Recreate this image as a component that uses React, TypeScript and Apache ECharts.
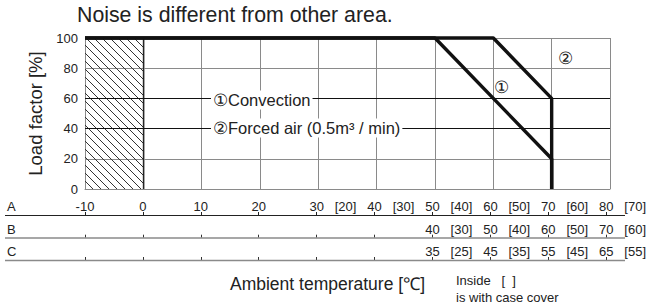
import React, { useEffect, useRef } from "react";
import * as echarts from "echarts";

const FONT = '"Liberation Sans", Arial, Helvetica, sans-serif';

// Derating curves: [ambient temperature (row A), load factor %]
const convectionCurve: [number, number][] = [[-10, 100], [50, 100], [70, 20], [70, 0]];
const forcedAirCurve: [number, number][] = [[-10, 100], [60, 100], [70, 60], [70, 0]];
// Hatched (different noise) region: [xFrom, xTo, yFrom, yTo]
const hatchBand: number[][] = [[-10, 0, 0, 100]];
// Leader line levels for the labels
const leaderLevels = [60, 40];

// Axis ticks
const yMin = 0, yMax = 100, yStep = 20;
const xMin = -10, xMax = 80, xStep = 10;
const majorTicks = [-10, 0, 10, 20, 30, 40, 50, 60, 70, 80];

// Temperature label rows
const rowAPositions = [-10, 0, 10, 20, 30, 35, 40, 45, 50, 55, 60, 65, 70, 75, 80, 85];
const rowALabels = ["-10", "0", "10", "20", "30", "[20]", "40", "[30]", "50", "[40]", "60", "[50]", "70", "[60]", "80", "[70]"];
const rowBPositions = [50, 55, 60, 65, 70, 75, 80, 85];
const rowBLabels = ["40", "[30]", "50", "[40]", "60", "[50]", "70", "[60]"];
const rowCPositions = [50, 55, 60, 65, 70, 75, 80, 85];
const rowCLabels = ["35", "[25]", "45", "[35]", "55", "[45]", "65", "[55]"];

const rowAxis = (offset: number, positions: number[], labels: string[], tickColor: string) => ({
  gridIndex: 1,
  type: "value",
  min: -10,
  max: 85,
  position: "bottom",
  offset,
  axisLine: { show: false },
  splitLine: { show: false },
  axisTick: {
    show: true,
    inside: true,
    length: 3,
    customValues: majorTicks,
    lineStyle: { color: tickColor, width: 1 },
  },
  axisLabel: {
    show: true,
    inside: true,
    margin: 2,
    customValues: positions,
    formatter: (v: number) => {
      const i = positions.indexOf(v);
      return i >= 0 ? labels[i] : "";
    },
    fontSize: 13,
    color: "#222",
    fontFamily: FONT,
  },
});

export default function App() {
  const ref = useRef<HTMLDivElement>(null);
  useEffect(() => {
    if (!ref.current) return;
    const chart = echarts.init(ref.current, null, { renderer: "svg" });
    const gray = "#8a8a8a";
    const option: any = {
      animation: false,
      backgroundColor: "#fff",
      grid: [
        { left: 85, top: 38, width: 525, height: 151 },
        { left: 85, top: 195, width: (525 * 95) / 90, height: 20 },
      ],
      xAxis: [
        {
          gridIndex: 0,
          type: "value",
          min: xMin,
          max: xMax,
          interval: xStep,
          axisLine: { show: true, lineStyle: { color: gray, width: 1 } },
          axisTick: { show: false },
          axisLabel: { show: false },
          splitLine: { show: true, lineStyle: { color: gray, width: 1 } },
        },
        rowAxis(0, rowAPositions, rowALabels, "#222"),
        rowAxis(22.7, rowBPositions, rowBLabels, "#333"),
        rowAxis(45, rowCPositions, rowCLabels, "#333"),
      ],
      yAxis: [
        {
          gridIndex: 0,
          type: "value",
          min: yMin,
          max: yMax,
          interval: yStep,
          axisLine: { show: true, lineStyle: { color: gray, width: 1.5 } },
          axisTick: { show: false },
          axisLabel: { fontSize: 13, color: "#222", margin: 7, fontFamily: FONT },
          splitLine: { show: true, lineStyle: { color: gray, width: 1 } },
          name: "Load factor [%]",
          nameLocation: "middle",
          nameRotate: 90,
          nameGap: 31,
          nameTextStyle: { fontSize: 18.5, color: "#222", fontFamily: FONT },
        },
        { gridIndex: 1, type: "value", show: false },
      ],
      series: [
        {
          type: "custom",
          xAxisIndex: 0,
          yAxisIndex: 0,
          data: hatchBand,
          silent: true,
          z: 1,
          renderItem: (params: any, api: any) => {
            const tl = api.coord([api.value(0), api.value(3)]);
            const br = api.coord([api.value(1), api.value(2)]);
            const x0 = tl[0], y0 = tl[1];
            const w = br[0] - tl[0], h = br[1] - tl[1];
            const step = 8;
            const children: any[] = [];
            for (let t = -h; t < w; t += step) {
              const s0 = Math.max(0, -t);
              const s1 = Math.min(h, w - t);
              if (s1 <= s0) continue;
              children.push({
                type: "line",
                shape: { x1: x0 + t + s0, y1: y0 + s0, x2: x0 + t + s1, y2: y0 + s1 },
                style: { stroke: "#333", lineWidth: 1 },
              });
            }
            children.push({
              type: "line",
              shape: { x1: br[0], y1: y0, x2: br[0], y2: br[1] },
              style: { stroke: "#111", lineWidth: 1 },
            });
            return { type: "group", children };
          },
        },
        {
          type: "line",
          name: "Convection",
          data: convectionCurve,
          symbol: "none",
          clip: false,
          z: 5,
          lineStyle: { color: "#111", width: 3.4 },
          markLine: {
            silent: true,
            symbol: "none",
            label: { show: false },
            lineStyle: { color: "#111", width: 1, type: "solid" },
            data: leaderLevels.map((v) => ({ yAxis: v })),
          },
        },
        {
          type: "line",
          name: "Forced air",
          data: forcedAirCurve,
          symbol: "none",
          clip: false,
          z: 5,
          lineStyle: { color: "#111", width: 3.4 },
        },
      ],
      graphic: [
        { type: "text", x: 77, y: 15, style: { text: "Noise is different from other area.", font: `21.3px ${FONT}`, fill: "#222", verticalAlign: "middle" } },
        { type: "line", z: 10, shape: { x1: 5, y1: 215.5, x2: 625, y2: 215.5 }, style: { stroke: "#222", lineWidth: 1 } },
        { type: "line", z: 10, shape: { x1: 5, y1: 238, x2: 625, y2: 238 }, style: { stroke: gray, lineWidth: 1.5 } },
        { type: "line", z: 10, shape: { x1: 5, y1: 260.5, x2: 625, y2: 260.5 }, style: { stroke: gray, lineWidth: 1.5 } },
        { type: "text", x: 7, y: 206, style: { text: "A", font: `13px ${FONT}`, fill: "#222", verticalAlign: "middle" } },
        { type: "text", x: 7, y: 229, style: { text: "B", font: `13px ${FONT}`, fill: "#222", verticalAlign: "middle" } },
        { type: "text", x: 7, y: 251, style: { text: "C", font: `13px ${FONT}`, fill: "#222", verticalAlign: "middle" } },
        {
          type: "text", z: 100, x: 211, y: 100,
          style: { text: "①Convection", font: `16.5px ${FONT}`, fill: "#222", verticalAlign: "middle", backgroundColor: "#fff", padding: [1, 2] },
        },
        {
          type: "text", z: 100, x: 211, y: 128,
          style: { text: "②Forced air (0.5m³ / min)", font: `16.5px ${FONT}`, fill: "#222", verticalAlign: "middle", backgroundColor: "#fff", padding: [1, 2] },
        },
        { type: "text", z: 100, x: 501, y: 87, style: { text: "①", font: `17px ${FONT}`, fill: "#222", align: "center", verticalAlign: "middle" } },
        { type: "text", z: 100, x: 565, y: 58, style: { text: "②", font: `17px ${FONT}`, fill: "#222", align: "center", verticalAlign: "middle" } },
        { type: "text", x: 230, y: 284, style: { text: "Ambient temperature [℃]", font: `17.5px ${FONT}`, fill: "#222", verticalAlign: "middle" } },
        { type: "text", x: 456, y: 280, style: { text: "Inside   [  ]", font: `13px ${FONT}`, fill: "#222", verticalAlign: "middle" } },
        { type: "text", x: 456, y: 297, style: { text: "is with case cover", font: `13px ${FONT}`, fill: "#222", verticalAlign: "middle" } },
      ],
    };
    chart.setOption(option);
    return () => chart.dispose();
  }, []);
  return <div ref={ref} style={{ width: 649, height: 308, position: "absolute", left: 0, top: 0 }} />;
}
